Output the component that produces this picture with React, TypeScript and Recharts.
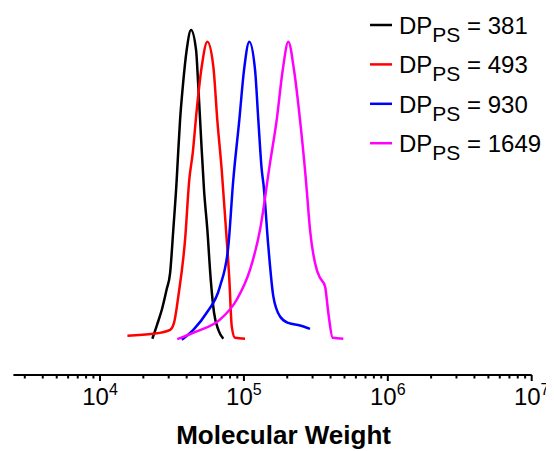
import React from 'react';
import { LineChart, Line, XAxis, YAxis, Legend } from 'recharts';

// GPC traces, normalised detector response vs molecular weight
const seriesNames = ['381', '493', '930', '1649'];
const seriesColors = ['#000000', '#ff0000', '#0000ff', '#ff00ff'];

const mw381 = [23100, 24900, 27000, 29000, 30700, 32300, 34100, 34700, 36000, 37600, 40000, 42900, 46500, 48200, 50300, 52800, 55700, 58800, 62000, 66400, 71900];
const int381 = [0.003, 0.048, 0.1, 0.161, 0.216, 0.355, 0.516, 0.581, 0.71, 0.817, 0.935, 1.0, 0.935, 0.817, 0.656, 0.484, 0.355, 0.194, 0.087, 0.032, 0.003];

const mw493 = [15500, 23500, 30700, 32700, 35000, 39000, 41700, 44100, 47000, 50900, 55700, 61300, 65300, 70100, 75100, 79200, 82300, 86700, 101800];
const int493 = [0.013, 0.019, 0.032, 0.055, 0.14, 0.323, 0.516, 0.603, 0.742, 0.882, 0.962, 0.882, 0.71, 0.548, 0.355, 0.194, 0.043, 0.006, 0.003];

const mw930 = [37000, 44500, 55100, 68200, 77900, 84000, 92900, 100200, 109000, 119500, 125900, 133000, 136900, 147800, 160100, 178200, 203500, 245400, 288000];
const int930 = [0.0, 0.032, 0.087, 0.172, 0.301, 0.506, 0.71, 0.871, 0.962, 0.871, 0.71, 0.548, 0.5, 0.301, 0.14, 0.075, 0.054, 0.046, 0.035];

const mw1649 = [34400, 47000, 68200, 89100, 110300, 129400, 151900, 169000, 186100, 203500, 222900, 245400, 265800, 273200, 288000, 320600, 338000, 366100, 385900, 414100, 490600];
const int1649 = [0.002, 0.027, 0.065, 0.129, 0.226, 0.355, 0.571, 0.71, 0.871, 0.962, 0.871, 0.71, 0.548, 0.484, 0.355, 0.226, 0.2, 0.172, 0.087, 0.006, 0.003];

const majorTicks = [10000, 100000, 1000000, 10000000];
const minorTicks = [
  3000, 4000, 5000, 6000, 7000, 8000, 9000,
  20000, 30000, 40000, 50000, 60000, 70000, 80000, 90000,
  200000, 300000, 400000, 500000, 600000, 700000, 800000, 900000,
  2000000, 3000000, 4000000, 5000000, 6000000, 7000000, 8000000, 9000000,
];
const allTicks = [...minorTicks, ...majorTicks].sort((a, b) => a - b);

const mwLists = [mw381, mw493, mw930, mw1649];
const intLists = [int381, int493, int930, int1649];
const series = seriesNames.map((name, i) => ({
  name,
  color: seriesColors[i],
  data: mwLists[i].map((mw, j) => ({ mw, y: intLists[i][j] })),
}));

const FONT = '"Liberation Sans", Arial, sans-serif';

const MwTick = (props: any) => {
  const { x, y, payload } = props;
  const v = payload.value as number;
  const isMajor = majorTicks.indexOf(v) >= 0;
  const exp = Math.round(Math.log10(v));
  return (
    <g>
      <line x1={x} x2={x} y1={y} y2={y + (isMajor ? 6 : 3.5)} stroke="#000" strokeWidth={2} />
      {isMajor && (
        <text x={x} y={y + 30} textAnchor="middle" fontSize={24} fontFamily={FONT} fill="#000">
          10<tspan fontSize={16} dy={-10}>{exp}</tspan>
        </text>
      )}
    </g>
  );
};

const AxisTitle = (props: any) => {
  const vb = props.viewBox || { x: 5.4, y: 367, width: 518, height: 76 };
  return (
    <text x={vb.x + vb.width / 2 + 11} y={vb.y + 69} textAnchor="middle"
      fontSize={26} fontWeight="bold" fontFamily={FONT} fill="#000">
      Molecular Weight
    </text>
  );
};

const renderLegend = () => (
  <svg width={190} height={160}>
    {series.map((s, i) => {
      const cy = 17 + i * 39.4;
      return (
        <g key={s.name}>
          <line x1={4} x2={26} y1={cy} y2={cy} stroke={s.color} strokeWidth={2.5} />
          <text x={33} y={cy + 9} fontSize={24} fontFamily={FONT} fill="#000">
            DP<tspan fontSize={21} dy={8}>PS</tspan><tspan dy={-8}> = {s.name}</tspan>
          </text>
        </g>
      );
    })}
  </svg>
);

export default function App() {
  return (
    <LineChart width={546} height={443} margin={{ top: 15.8, right: 22.3, left: 5.4, bottom: 0 }}>
      <XAxis
        type="number"
        dataKey="mw"
        scale="log"
        domain={[2500, 10000000]}
        allowDataOverflow
        ticks={allTicks}
        interval={0}
        tickSize={0}
        tickMargin={0}
        tickLine={false}
        tick={<MwTick />}
        axisLine={{ stroke: '#000', strokeWidth: 2 }}
        height={76}
        label={<AxisTitle />}
      />
      <YAxis hide type="number" domain={[-0.114, 1.02]} allowDataOverflow />
      <Legend
        layout="vertical"
        align="center"
        verticalAlign="middle"
        content={renderLegend}
        wrapperStyle={{ top: 0, left: 358, width: 190 }}
      />
      {series.map((s) => (
        <Line
          key={s.name}
          data={s.data}
          dataKey="y"
          name={s.name}
          type="monotone"
          stroke={s.color}
          strokeWidth={2.5}
          dot={false}
          activeDot={false}
          isAnimationActive={false}
        />
      ))}
    </LineChart>
  );
}
